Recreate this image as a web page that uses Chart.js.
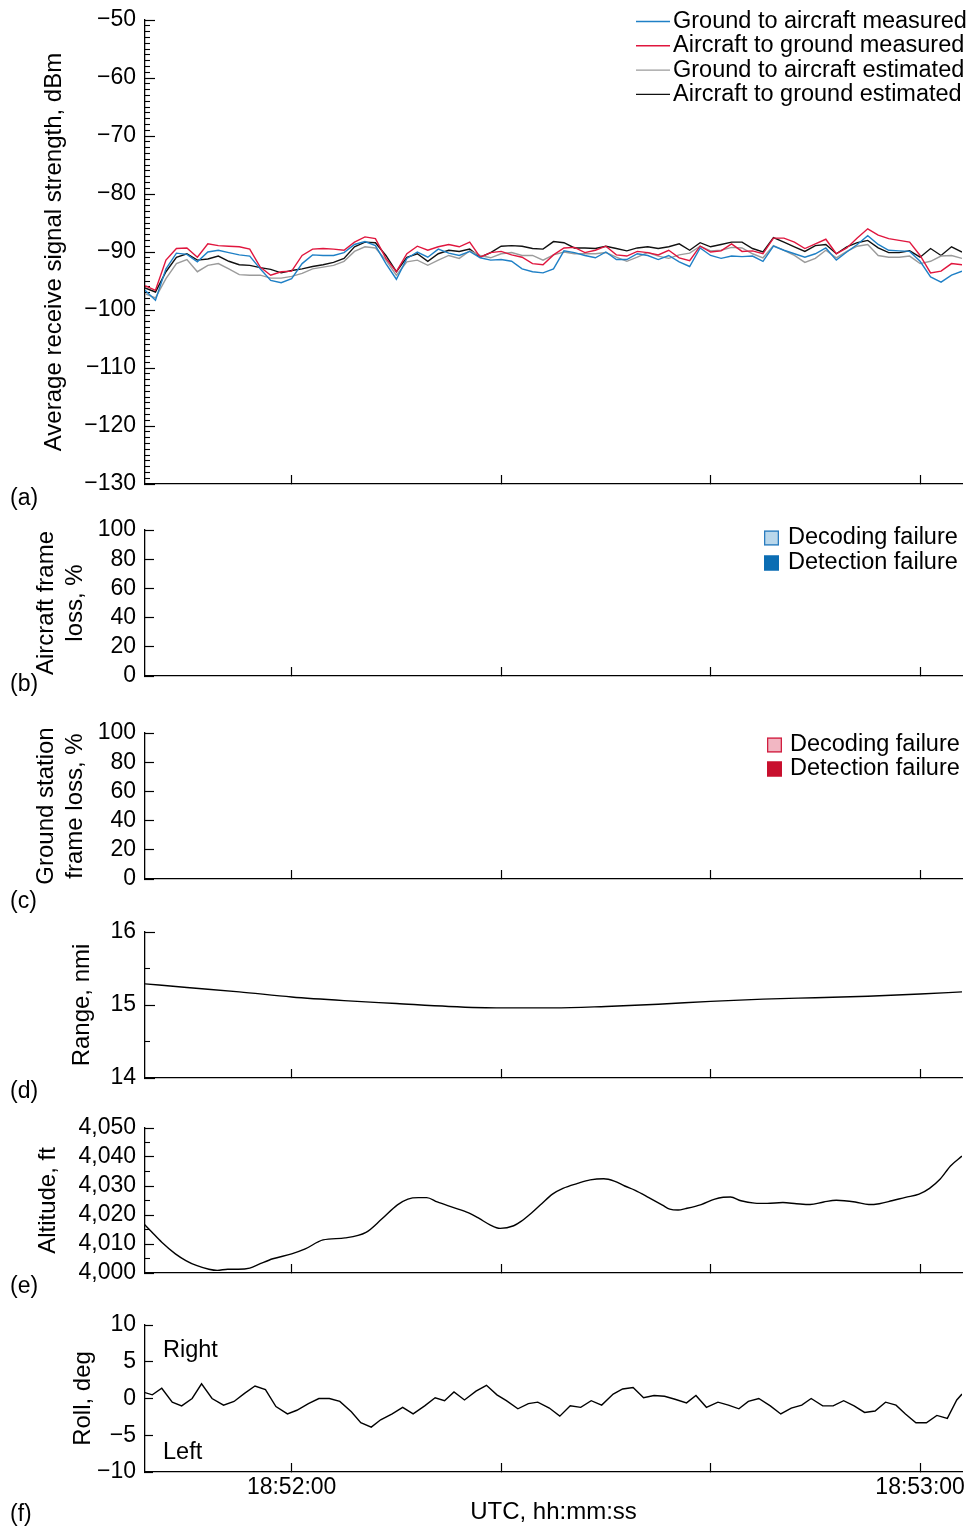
<!DOCTYPE html>
<html>
<head>
<meta charset="utf-8">
<title>Air-ground link flight segment</title>
<script src="https://cdn.jsdelivr.net/npm/chart.js@4.4.1/dist/chart.umd.min.js"></script>
<style>
  html, body { margin: 0; padding: 0; background: #fff; }
  #page { position: relative; width: 976px; height: 1527px; overflow: hidden;
          font-family: "Liberation Sans", Arial, Helvetica, sans-serif; }
  #page canvas { position: absolute; left: 0; }
  .tag { position: absolute; left: 10px; font-size: 23px; line-height: 23px; color: #000; }
</style>
</head>
<body>
<div id="page">
  <canvas id="panelA" width="976" height="505" style="top:0px"></canvas>
  <canvas id="panelB" width="976" height="195" style="top:505px"></canvas>
  <canvas id="panelC" width="976" height="200" style="top:700px"></canvas>
  <canvas id="panelD" width="976" height="195" style="top:900px"></canvas>
  <canvas id="panelE" width="976" height="195" style="top:1095px"></canvas>
  <canvas id="panelF" width="976" height="237" style="top:1290px"></canvas>
  <div class="tag" style="top:486px">(a)</div>
  <div class="tag" style="top:672px">(b)</div>
  <div class="tag" style="top:889px">(c)</div>
  <div class="tag" style="top:1079px">(d)</div>
  <div class="tag" style="top:1274px">(e)</div>
  <div class="tag" style="top:1502px">(f)</div>
</div>
<script>
// ---- time axis: seconds relative to 18:52:00 UTC ----
const timeMin = -14;
const timeMax = 64;
const timeTicks = [0, 20, 40, 60];
const timeTickLabels = ['18:52:00', '', '', '18:53:00'];
const timeTitle = 'UTC, hh:mm:ss';

// ---- (a) average receive signal strength, dBm (1 s samples) ----
const rssiSeconds = [-14, -13, -12, -11, -10, -9, -8, -7, -6, -5, -4, -3, -2, -1, 0, 1, 2, 3, 4, 5,
  6, 7, 8, 9, 10, 11, 12, 13, 14, 15, 16, 17, 18, 19, 20, 21, 22, 23, 24, 25,
  26, 27, 28, 29, 30, 31, 32, 33, 34, 35, 36, 37, 38, 39, 40, 41, 42, 43, 44, 45,
  46, 47, 48, 49, 50, 51, 52, 53, 54, 55, 56, 57, 58, 59, 60, 61, 62, 63, 64];
const groundToAircraftMeasured = [-96.6, -98.3, -92.9, -90.2, -90.4, -91.7, -90.0, -89.7, -90.1, -90.5,
  -90.7, -92.9, -94.9, -95.3, -94.6, -92.0, -90.5, -90.6, -90.6, -90.1,
  -88.7, -88.2, -88.9, -92.0, -94.7, -91.1, -90.0, -90.9, -89.5, -90.2,
  -90.6, -89.9, -91.0, -91.4, -91.3, -91.6, -92.9, -93.4, -93.6, -92.9,
  -89.8, -90.1, -90.6, -91.0, -90.0, -91.3, -91.3, -90.3, -90.6, -91.3,
  -90.6, -91.7, -92.5, -89.3, -90.6, -91.1, -90.7, -90.8, -90.7, -91.6,
  -89.0, -89.7, -90.3, -90.9, -90.3, -89.3, -91.4, -90.0, -88.7, -87.2,
  -88.7, -89.7, -89.8, -89.9, -91.6, -94.3, -95.2, -94.0, -93.3];
const aircraftToGroundMeasured = [-95.8, -96.6, -91.4, -89.4, -89.3, -90.9, -88.6, -88.9, -89.0, -89.1,
  -89.5, -92.6, -94.0, -93.4, -93.3, -90.6, -89.5, -89.4, -89.5, -89.7,
  -88.3, -87.4, -87.7, -91.1, -93.4, -90.3, -89.0, -89.7, -89.1, -88.7,
  -89.1, -88.3, -90.9, -90.1, -89.9, -90.5, -90.9, -92.0, -92.2, -90.5,
  -89.3, -89.2, -90.1, -89.7, -89.0, -90.5, -90.7, -89.9, -90.1, -90.5,
  -89.7, -91.0, -91.5, -89.0, -90.0, -89.8, -88.6, -89.9, -89.8, -90.3,
  -87.6, -87.6, -88.3, -89.4, -88.6, -87.8, -90.3, -89.3, -87.6, -86.0,
  -87.1, -87.7, -88.0, -88.3, -90.6, -93.6, -93.3, -92.0, -92.2];
const groundToAircraftEstimated = [-97.2, -97.9, -94.6, -92.0, -91.3, -93.4, -92.3, -92.0, -92.9, -93.9,
  -94.0, -94.0, -94.5, -94.5, -94.2, -93.7, -92.9, -92.6, -92.3, -91.6,
  -89.9, -89.1, -89.3, -91.4, -94.0, -91.7, -91.4, -92.3, -91.4, -90.6,
  -91.1, -89.8, -90.6, -91.0, -90.3, -90.1, -90.6, -90.6, -91.4, -90.5,
  -90.0, -90.3, -90.3, -90.3, -90.1, -90.9, -91.6, -90.9, -90.1, -90.7,
  -91.1, -90.5, -90.2, -89.0, -89.8, -89.7, -89.2, -89.3, -90.3, -91.0,
  -88.9, -89.7, -90.6, -91.8, -91.1, -89.7, -91.0, -89.9, -89.0, -88.7,
  -90.6, -90.9, -90.9, -90.7, -92.0, -91.6, -90.7, -90.6, -91.1];
const aircraftToGroundEstimated = [-96.2, -96.9, -93.4, -90.9, -90.3, -91.4, -91.2, -90.7, -91.6, -92.2,
  -92.3, -92.7, -93.0, -93.6, -93.2, -92.9, -92.5, -92.2, -91.8, -91.1,
  -89.1, -88.3, -88.4, -90.6, -93.4, -90.9, -90.3, -91.6, -90.3, -89.7,
  -89.9, -89.5, -90.9, -90.1, -89.0, -88.9, -89.0, -89.4, -89.5, -88.2,
  -88.4, -89.3, -89.3, -89.4, -89.0, -89.4, -89.8, -89.3, -89.1, -89.4,
  -89.1, -88.6, -89.7, -88.4, -89.1, -88.7, -88.3, -88.3, -89.4, -90.0,
  -87.5, -88.3, -89.1, -89.9, -88.9, -88.7, -90.3, -89.1, -88.4, -88.0,
  -89.3, -90.1, -90.1, -89.8, -90.9, -89.4, -90.6, -89.1, -90.0];
const rssiTicks = [-130, -120, -110, -100, -90, -80, -70, -60, -50];
const rssiMinorTicks = [-129, -128, -127, -126, -125, -124, -123, -122, -121,
  -119, -118, -117, -116, -115, -114, -113, -112, -111,
  -109, -108, -107, -106, -105, -104, -103, -102, -101,
  -99, -98, -97, -96, -95, -94, -93, -92, -91,
  -89, -88, -87, -86, -85, -84, -83, -82, -81,
  -79, -78, -77, -76, -75, -74, -73, -72, -71,
  -69, -68, -67, -66, -65, -64, -63, -62, -61,
  -59, -58, -57, -56, -55, -54, -53, -52, -51];

// ---- (b), (c) frame loss, % (2 s bins, no losses in this segment) ----
const lossSeconds = [-14, -12, -10, -8, -6, -4, -2, 0, 2, 4, 6, 8, 10, 12, 14, 16, 18, 20, 22, 24,
  26, 28, 30, 32, 34, 36, 38, 40, 42, 44, 46, 48, 50, 52, 54, 56, 58, 60, 62, 64];
const aircraftDecodingLoss  = [0,0,0,0,0,0,0,0,0,0,0,0,0,0,0,0,0,0,0,0,0,0,0,0,0,0,0,0,0,0,0,0,0,0,0,0,0,0,0,0];
const aircraftDetectionLoss = [0,0,0,0,0,0,0,0,0,0,0,0,0,0,0,0,0,0,0,0,0,0,0,0,0,0,0,0,0,0,0,0,0,0,0,0,0,0,0,0];
const groundDecodingLoss    = [0,0,0,0,0,0,0,0,0,0,0,0,0,0,0,0,0,0,0,0,0,0,0,0,0,0,0,0,0,0,0,0,0,0,0,0,0,0,0,0];
const groundDetectionLoss   = [0,0,0,0,0,0,0,0,0,0,0,0,0,0,0,0,0,0,0,0,0,0,0,0,0,0,0,0,0,0,0,0,0,0,0,0,0,0,0,0];
const lossTicks = [0, 20, 40, 60, 80, 100];

// ---- (d) range, nmi ----
const rangeSeconds = [-14, -10, -5, 0, 5, 10, 15, 20, 25, 30, 35, 40, 45, 50, 55, 60, 64];
const rangeNmi = [15.29, 15.24, 15.18, 15.11, 15.06, 15.02, 14.98, 14.96, 14.96, 14.98, 15.01, 15.05, 15.08, 15.10, 15.12, 15.15, 15.18];
const rangeTicks = [14, 15, 16];
const rangeMinorTicks = [14.5, 15.5];

// ---- (e) altitude, ft ----
const altitudeSeconds = [-14.1, -13.4, -12.4, -11.1, -10.1, -9.1, -7.9, -7.1, -6.1, -5.1,
  -4.0, -3.0, -1.8, 0, 1.3, 3.0, 5.1, 7.1, 8.6, 10.1,
  11.1, 12.1, 12.9, 13.9, 15.4, 16.9, 17.9, 18.9, 19.9, 21.2,
  21.9, 22.9, 23.9, 24.9, 25.9, 27.3, 28.5, 29.8, 30.8, 31.8,
  32.8, 34.1, 35.4, 36.1, 36.9, 37.6, 39.1, 40.4, 41.2, 41.9,
  42.9, 44.2, 45.4, 46.9, 48.2, 49.5, 50.8, 52.0, 53.8, 55.1,
  56.1, 57.3, 58.6, 59.9, 60.9, 61.9, 62.9, 64.0];
const altitudeFeet = [4016.9, 4014.3, 4010.6, 4006.6, 4004.3, 4002.6, 4001.3, 4000.9, 4001.3, 4001.3,
  4001.7, 4003.2, 4004.9, 4006.6, 4008.3, 4011.4, 4012.1, 4014.0, 4018.6, 4023.5,
  4025.5, 4026.0, 4026.0, 4024.5, 4022.6, 4020.7, 4018.8, 4016.7, 4015.4, 4016.3,
  4017.8, 4020.7, 4024.0, 4027.2, 4029.2, 4030.9, 4032.1, 4032.5, 4031.7, 4030.0,
  4028.5, 4026.0, 4023.4, 4022.0, 4021.7, 4022.2, 4023.6, 4025.5, 4026.1, 4026.2,
  4024.9, 4024.1, 4024.0, 4024.3, 4023.9, 4023.6, 4024.5, 4025.1, 4024.5, 4023.6,
  4023.9, 4024.9, 4026.1, 4027.2, 4029.2, 4032.3, 4036.9, 4040.3];
const altitudeTicks = [4000, 4010, 4020, 4030, 4040, 4050];
const altitudeMinorTicks = [4005, 4015, 4025, 4035, 4045];

// ---- (f) roll, deg (positive = right wing down) ----
const rollSeconds = [-14.0, -13.3, -12.4, -11.4, -10.5, -9.5, -8.6, -7.6, -6.5, -5.5,
  -4.5, -3.5, -2.5, -1.5, -0.4, 0.5, 1.6, 2.6, 3.6, 4.6,
  5.7, 6.6, 7.6, 8.5, 9.6, 10.6, 11.6, 12.7, 13.7, 14.6,
  15.5, 16.5, 17.6, 18.6, 19.6, 20.5, 21.6, 22.6, 23.5, 24.6,
  25.6, 26.6, 27.6, 28.6, 29.6, 30.7, 31.6, 32.6, 33.6, 34.6,
  35.6, 36.6, 37.7, 38.6, 39.6, 40.7, 41.7, 42.7, 43.6, 44.6,
  45.7, 46.7, 47.7, 48.7, 49.6, 50.7, 51.7, 52.7, 53.7, 54.7,
  55.7, 56.7, 57.7, 58.6, 59.6, 60.6, 61.6, 62.6, 63.5, 64.0];
const rollDeg = [0.8, 0.5, 1.4, -0.5, -1.0, 0.0, 2.0, 0.0, -0.9, -0.4,
  0.7, 1.7, 1.2, -1.1, -2.1, -1.6, -0.7, 0.0, 0.0, -0.4,
  -1.8, -3.3, -3.9, -2.9, -2.1, -1.2, -2.1, -1.0, 0.1, -0.3,
  0.9, -0.2, 1.0, 1.8, 0.5, -0.3, -1.4, -0.7, -0.5, -1.3,
  -2.4, -1.0, -1.2, -0.3, -0.9, 0.6, 1.3, 1.5, 0.1, 0.4,
  0.3, -0.1, -0.6, 0.4, -1.2, -0.5, -0.9, -1.4, -0.4, 0.0,
  -1.0, -2.1, -1.3, -0.9, 0.0, -1.0, -1.0, -0.3, -1.0, -1.9,
  -1.7, -0.5, -0.9, -2.1, -3.3, -3.3, -2.3, -2.7, -0.2, 0.6];
const rollTicks = [-10, -5, 0, 5, 10];
const rollNotes = [{ text: 'Right', value: 6.5 }, { text: 'Left', value: -7.4 }];

// ---- shared styling ----
const FONT = '"Liberation Sans", Arial, Helvetica, sans-serif';
const INK = '#000';
const AXIS_LEFT = 145;
const RIGHT_PAD = 14;
const TITLE_SIZE = 24;
Chart.defaults.font.family = FONT;
Chart.defaults.font.size = 23;
Chart.defaults.color = INK;

const minus = v => (v < 0 ? '\u2212' + Math.abs(v) : String(v));
const thousands = v => v.toLocaleString('en-US');
const points = (xs, ys) => xs.map((x, i) => ({ x: x, y: ys[i] }));
// keep the plot area exactly where the layout padding puts it
const noOverhang = s => { s.paddingTop = 0; s.paddingBottom = 0; s.paddingLeft = 0; s.paddingRight = 0; };

// legend drawn inside the plot area, top-right
const insideLegend = {
  id: 'insideLegend',
  afterDraw(chart, args, opts) {
    if (!opts || !opts.kind) return;
    const { ctx, chartArea } = chart;
    ctx.save();
    ctx.font = opts.fontSize + 'px ' + FONT;
    ctx.textBaseline = 'middle';
    ctx.textAlign = 'left';
    chart.data.datasets.forEach((ds, i) => {
      const y = chartArea.top + opts.top + i * opts.rowGap;
      const x0 = chartArea.right - opts.fromRight;
      if (opts.kind === 'line') {
        ctx.strokeStyle = ds.borderColor;
        ctx.lineWidth = 1.4;
        ctx.beginPath(); ctx.moveTo(x0, y); ctx.lineTo(x0 + opts.sample, y); ctx.stroke();
      } else {
        const s = opts.sample;
        ctx.fillStyle = ds.backgroundColor;
        ctx.fillRect(x0, y - s / 2, s, s);
        ctx.strokeStyle = ds.borderColor;
        ctx.lineWidth = 1.3;
        ctx.strokeRect(x0 + 0.65, y - s / 2 + 0.65, s - 1.3, s - 1.3);
      }
      ctx.fillStyle = INK;
      ctx.fillText(ds.label, x0 + opts.sample + opts.gap, y);
    });
    ctx.restore();
  }
};

// free text notes placed at y values inside the plot area
const sideNotes = {
  id: 'sideNotes',
  afterDraw(chart, args, opts) {
    if (!opts || !opts.items) return;
    const { ctx, chartArea, scales } = chart;
    ctx.save();
    ctx.font = '23.5px ' + FONT;
    ctx.fillStyle = INK;
    ctx.textBaseline = 'middle';
    ctx.textAlign = 'left';
    opts.items.forEach(it => ctx.fillText(it.text, chartArea.left + opts.inset, scales.y.getPixelForValue(it.value)));
    ctx.restore();
  }
};
Chart.register(insideLegend, sideNotes);

function panelOptions(p) {
  const scales = {
    x: {
      type: 'linear', min: timeMin, max: timeMax, offset: false,
      afterBuildTicks: s => { s.ticks = timeTicks.map(v => ({ value: v })); },
      afterFit: s => { s.height = p.xHeight; noOverhang(s); },
      grid: { display: true, offset: false, drawOnChartArea: false, drawTicks: true, tickLength: -9, tickColor: INK, tickWidth: 1.2 },
      border: { display: true, color: INK, width: 1.3 },
      ticks: {
        display: !!p.timeLabels, autoSkip: false, maxRotation: 0, padding: 11,
        callback: v => { const i = timeTicks.indexOf(v); return i < 0 ? '' : timeTickLabels[i]; }
      },
      title: { display: !!p.timeLabels, text: timeTitle, font: { size: TITLE_SIZE }, padding: { top: 0, bottom: 0 } }
    },
    y: {
      type: 'linear', position: 'left', weight: 1, min: p.yMin, max: p.yMax,
      afterBuildTicks: s => { s.ticks = p.yTicks.map(v => ({ value: v })); },
      afterFit: s => { s.width = AXIS_LEFT; noOverhang(s); },
      grid: { display: true, offset: false, drawOnChartArea: false, drawTicks: true, tickLength: -p.majorLen, tickColor: INK, tickWidth: 1.2 },
      border: { display: true, color: INK, width: 1.3 },
      ticks: { autoSkip: false, padding: 9 + p.majorLen, callback: v => p.yFormat(v) },
      title: { display: true, text: p.yTitle, font: { size: TITLE_SIZE }, padding: { top: p.yTitlePad, bottom: 0 } }
    }
  };
  if (p.yMinorTicks) {
    scales.yMinor = {
      type: 'linear', position: 'left', weight: 0, min: p.yMin, max: p.yMax,
      afterBuildTicks: s => { s.ticks = p.yMinorTicks.map(v => ({ value: v })); },
      afterFit: s => { s.width = 0; noOverhang(s); },
      grid: { display: true, offset: false, drawOnChartArea: false, drawTicks: true, tickLength: -p.minorLen, tickColor: INK, tickWidth: 1.1 },
      border: { display: false },
      ticks: { display: false }
    };
  }
  return {
    responsive: false,
    animation: false,
    devicePixelRatio: 1,
    layout: { padding: { top: p.padTop, right: RIGHT_PAD, left: 0, bottom: 0 } },
    plugins: {
      legend: { display: false },
      tooltip: { enabled: false },
      insideLegend: p.legend || {},
      sideNotes: p.notes || {}
    },
    elements: { point: { radius: 0 }, line: { borderWidth: 1.4, tension: 0 } },
    scales: scales
  };
}

// (a) signal strength
new Chart(document.getElementById('panelA'), {
  type: 'line',
  data: {
    datasets: [
      { label: 'Ground to aircraft measured', data: points(rssiSeconds, groundToAircraftMeasured), borderColor: '#1f80c6' },
      { label: 'Aircraft to ground measured', data: points(rssiSeconds, aircraftToGroundMeasured), borderColor: '#e0163e' },
      { label: 'Ground to aircraft estimated', data: points(rssiSeconds, groundToAircraftEstimated), borderColor: '#9b9b9b' },
      { label: 'Aircraft to ground estimated', data: points(rssiSeconds, aircraftToGroundEstimated), borderColor: '#111111' }
    ]
  },
  options: panelOptions({
    padTop: 20, xHeight: 21, yMin: -130, yMax: -50, yTicks: rssiTicks, yMinorTicks: rssiMinorTicks,
    majorLen: 10, minorLen: 5, yFormat: minus,
    yTitle: 'Average receive signal strength, dBm', yTitlePad: 40,
    legend: { kind: 'line', top: 1.5, rowGap: 24.3, fromRight: 326, sample: 34, gap: 3, fontSize: 23.5 }
  })
});

// (b) aircraft frame loss
new Chart(document.getElementById('panelB'), {
  type: 'bar',
  data: {
    datasets: [
      { label: 'Decoding failure', data: points(lossSeconds, aircraftDecodingLoss), backgroundColor: '#b9d7eb', borderColor: '#2a7cbf', borderWidth: 0 },
      { label: 'Detection failure', data: points(lossSeconds, aircraftDetectionLoss), backgroundColor: '#0b6db3', borderColor: '#0b6db3', borderWidth: 0 }
    ]
  },
  options: panelOptions({
    padTop: 25, xHeight: 24, yMin: 0, yMax: 100, yTicks: lossTicks, majorLen: 9, yFormat: v => String(v),
    yTitle: ['Aircraft frame', 'loss, %'], yTitlePad: 32,
    legend: { kind: 'box', top: 8, rowGap: 25, fromRight: 198, sample: 15, gap: 9, fontSize: 23.5 }
  })
});

// (c) ground station frame loss
new Chart(document.getElementById('panelC'), {
  type: 'bar',
  data: {
    datasets: [
      { label: 'Decoding failure', data: points(lossSeconds, groundDecodingLoss), backgroundColor: '#f2b7c3', borderColor: '#d11f40', borderWidth: 0 },
      { label: 'Detection failure', data: points(lossSeconds, groundDetectionLoss), backgroundColor: '#c8102e', borderColor: '#c8102e', borderWidth: 0 }
    ]
  },
  options: panelOptions({
    padTop: 33, xHeight: 21, yMin: 0, yMax: 100, yTicks: lossTicks, majorLen: 9, yFormat: v => String(v),
    yTitle: ['Ground station', 'frame loss, %'], yTitlePad: 32,
    legend: { kind: 'box', top: 12, rowGap: 24, fromRight: 195, sample: 15, gap: 8, fontSize: 23.5 }
  })
});

// (d) range
new Chart(document.getElementById('panelD'), {
  type: 'line',
  data: {
    datasets: [
      { label: 'Range', data: points(rangeSeconds, rangeNmi), borderColor: INK, cubicInterpolationMode: 'monotone' }
    ]
  },
  options: panelOptions({
    padTop: 32, xHeight: 17, yMin: 14, yMax: 16, yTicks: rangeTicks, yMinorTicks: rangeMinorTicks,
    majorLen: 10, minorLen: 5, yFormat: v => String(v),
    yTitle: 'Range, nmi', yTitlePad: 68
  })
});

// (e) altitude
new Chart(document.getElementById('panelE'), {
  type: 'line',
  data: {
    datasets: [
      { label: 'Altitude', data: points(altitudeSeconds, altitudeFeet), borderColor: INK, cubicInterpolationMode: 'monotone' }
    ]
  },
  options: panelOptions({
    padTop: 33, xHeight: 17, yMin: 4000, yMax: 4050, yTicks: altitudeTicks, yMinorTicks: altitudeMinorTicks,
    majorLen: 9, minorLen: 5, yFormat: thousands,
    yTitle: 'Altitude, ft', yTitlePad: 34
  })
});

// (f) roll
new Chart(document.getElementById('panelF'), {
  type: 'line',
  data: {
    datasets: [
      { label: 'Roll', data: points(rollSeconds, rollDeg), borderColor: INK }
    ]
  },
  options: panelOptions({
    padTop: 35, xHeight: 55, timeLabels: true, yMin: -10, yMax: 10, yTicks: rollTicks,
    majorLen: 8, yFormat: minus,
    yTitle: 'Roll, deg', yTitlePad: 69,
    notes: { items: rollNotes, inset: 18 }
  })
});
</script>
</body>
</html>
